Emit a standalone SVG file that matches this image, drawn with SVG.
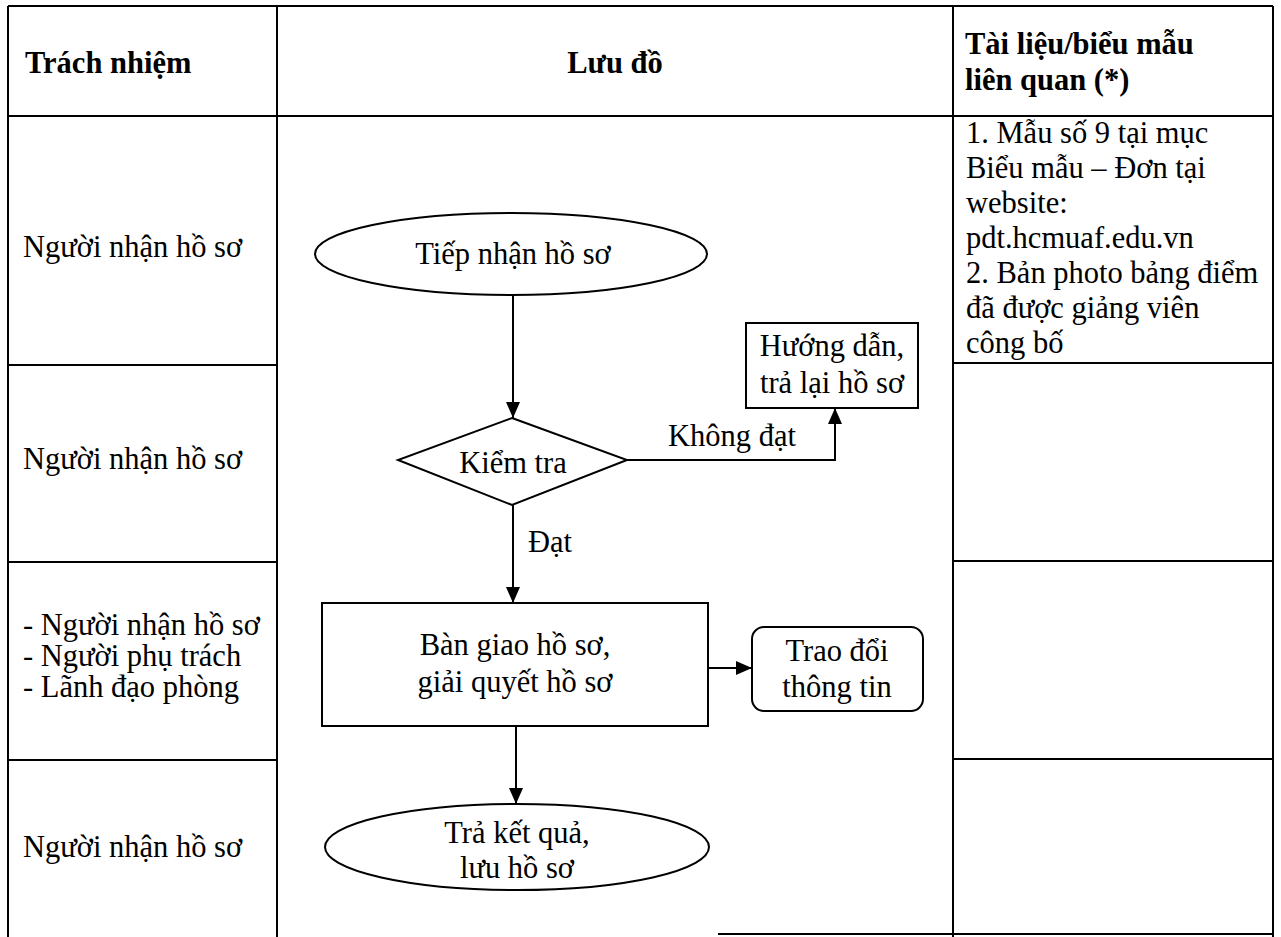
<svg xmlns="http://www.w3.org/2000/svg" width="1281" height="937" viewBox="0 0 1281 937">
<style>
.t{font-family:"Liberation Serif","Times New Roman",serif;font-size:30.5px;fill:#000}
.b{font-weight:bold}
.c{text-anchor:middle}
.grid{stroke:#000;stroke-width:2;fill:none}
.shape{stroke:#000;stroke-width:2;fill:#fff}
.conn{stroke:#000;stroke-width:2;fill:none}
</style>
<defs>
<marker id="arr" markerUnits="userSpaceOnUse" markerWidth="16" markerHeight="14" refX="16" refY="7" orient="auto">
<path d="M0,0 L16,7 L0,14 z" fill="#000"/>
</marker>
</defs>
<rect width="1281" height="937" fill="#fff"/>
<g id="table">
<path class="grid" d="M8,6 H1273 M8,116 H1273 M8,6 V937 M277,6 V937 M953,6 V937 M1273,6 V937 M8,365 H277 M953,363 H1273 M8,562 H277 M953,561 H1273 M8,760 H277 M953,759 H1273 M718,934 H1273"/>
<text class="t b" x="25" y="73">Trách nhiệm</text>
<text class="t b c" x="615" y="73">Lưu đồ</text>
<text class="t b" x="965" y="54">Tài liệu/biểu mẫu</text>
<text class="t b" x="965" y="90">liên quan (*)</text>
</g>
<g id="resp1"><text class="t" x="23" y="257">Người nhận hồ sơ</text></g>
<g id="resp2"><text class="t" x="23" y="469">Người nhận hồ sơ</text></g>
<g id="resp3">
<text class="t" x="23" y="635">- Người nhận hồ sơ</text>
<text class="t" x="23" y="666">- Người phụ trách</text>
<text class="t" x="23" y="697">- Lãnh đạo phòng</text>
</g>
<g id="resp4"><text class="t" x="23" y="857">Người nhận hồ sơ</text></g>
<g id="docs">
<text class="t" x="966" y="143">1. Mẫu số 9 tại mục</text>
<text class="t" x="966" y="178">Biểu mẫu – Đơn tại</text>
<text class="t" x="966" y="213">website:</text>
<text class="t" x="966" y="248">pdt.hcmuaf.edu.vn</text>
<text class="t" x="966" y="283">2. Bản photo bảng điểm</text>
<text class="t" x="966" y="318">đã được giảng viên</text>
<text class="t" x="966" y="353">công bố</text>
</g>
<g id="connectors">
<path class="conn" d="M513,295 V418" marker-end="url(#arr)"/>
<path class="conn" d="M627,460 H835 V408" marker-end="url(#arr)"/>
<path class="conn" d="M513,505 V603" marker-end="url(#arr)"/>
<path class="conn" d="M708,668 H752" marker-end="url(#arr)"/>
<path class="conn" d="M516,726 V804" marker-end="url(#arr)"/>
<text class="t" x="668" y="446">Không đạt</text>
<text class="t" x="528" y="552">Đạt</text>
</g>
<g id="n-start">
<ellipse class="shape" cx="511" cy="254" rx="196" ry="41"/>
<text class="t c" x="513" y="264">Tiếp nhận hồ sơ</text>
</g>
<g id="n-check">
<polygon class="shape" points="512,418 627,460 512,505 398,460"/>
<text class="t c" x="513" y="473">Kiểm tra</text>
</g>
<g id="n-return">
<rect class="shape" x="746" y="323" width="172" height="85"/>
<text class="t c" x="832" y="356">Hướng dẫn,</text>
<text class="t c" x="832" y="393">trả lại hồ sơ</text>
</g>
<g id="n-process">
<rect class="shape" x="322" y="603" width="386" height="123"/>
<text class="t c" x="515" y="655">Bàn giao hồ sơ,</text>
<text class="t c" x="515" y="692">giải quyết hồ sơ</text>
</g>
<g id="n-exchange">
<rect class="shape" x="752" y="627" width="171" height="84" rx="12"/>
<text class="t c" x="837" y="661">Trao đổi</text>
<text class="t c" x="837" y="697">thông tin</text>
</g>
<g id="n-end">
<ellipse class="shape" cx="517" cy="847" rx="192" ry="43"/>
<text class="t c" x="517" y="843">Trả kết quả,</text>
<text class="t c" x="517" y="878">lưu hồ sơ</text>
</g>
</svg>
